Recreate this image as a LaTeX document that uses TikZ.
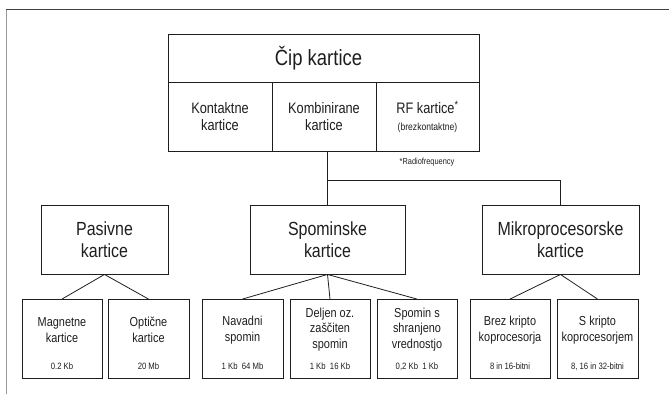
\documentclass[tikz,border=0pt]{standalone}
\usepackage{fontspec}
\setmainfont{Liberation Sans}[FakeStretch=0.84]
\definecolor{ink}{HTML}{1E1E1E}
\definecolor{framegray}{HTML}{9A9A9A}
\newcommand\fTitle{\fontsize{22}{24}\selectfont}
\newcommand\fMid{\fontsize{19}{22}\selectfont}
\newcommand\fSub{\fontsize{15.2}{16.6}\selectfont}
\newcommand\fSmall{\fontsize{10.2}{12}\selectfont}
\newcommand\fBot{\fontsize{13}{15.5}\selectfont}
\newcommand\fVal{\fontsize{9.2}{11}\selectfont}
\begin{document}
\begin{tikzpicture}[x=1pt,y=-1pt,
  box/.style={draw=ink, line width=0.9pt, inner sep=0pt, align=center, text=ink},
  midbox/.style={box, minimum height=69pt, font=\fMid},
  subbox/.style={box, minimum height=69pt, font=\fSub},
  botbox/.style={draw=ink, line width=0.9pt, inner sep=0pt, minimum height=79pt},
  bottext/.style={align=center, text=ink, inner sep=0pt, font=\fBot},
  valtext/.style={text=ink, inner sep=0pt, font=\fVal},
  conn/.style={draw=ink, line width=0.8pt}]
\useasboundingbox (0,0) rectangle (669,394);
% frame
\draw[framegray, line width=1.6pt] (6.5,394) -- (6.5,9.5);
\draw[ink!85, line width=1.3pt] (5.7,9.5) -- (669,9.5);
% top box
\node[box, minimum width=311pt, minimum height=48pt] (cip) at (323.5,58) {};
\node[text=ink, inner sep=0pt, font=\fTitle] (ciptext) at (318.5,58) {Čip kartice};
\node[subbox, minimum width=104pt] (kon) at (220,116.5) {Kontaktne\\kartice};
\node[subbox, minimum width=104pt] (kom) at (324,116.5) {Kombinirane\\kartice};
\node[subbox, minimum width=103pt] (rf) at (427.5,116.5) {RF kartice\textsuperscript{*}\\{\fSmall(brezkontaktne)}};
\node[valtext, font=\fontsize{8.8}{10}\selectfont] (rfnote) at (427,162.5) {*Radiofrequency};
% second row
\node[midbox, minimum width=127pt] (pas) at (104.5,239.5) {Pasivne\\kartice};
\node[midbox, minimum width=155pt] (spo) at (327.5,239.5) {Spominske\\kartice};
\node[midbox, minimum width=157pt] (mik) at (560.5,239.5) {Mikroprocesorske\\kartice};
% connectors top
\coordinate (jn) at (327.5,180);
\draw[conn] (spo.north |- kom.south) -- (spo.north);
\draw[conn] (jn) -| (mik.north);
% bottom boxes
\node[botbox, minimum width=80pt] (b1) at (62,339) {};
\node[botbox, minimum width=81pt] (b2) at (148.5,339) {};
\node[botbox, minimum width=81pt] (b3) at (242.5,339) {};
\node[botbox, minimum width=80pt] (b4) at (330,339) {};
\node[botbox, minimum width=80pt] (b5) at (417,339) {};
\node[botbox, minimum width=80pt] (b6) at (510,339) {};
\node[botbox, minimum width=81pt] (b7) at (597.5,339) {};
% bottom texts
\node[bottext] (t1) at (62,330) {Magnetne\\kartice};
\node[bottext] (t2) at (148.5,330) {Optične\\kartice};
\node[bottext] (t3) at (242.5,330) {Navadni\\spomin};
\node[bottext] (t4) at (330,329.5) {Deljen oz.\\zaščiten\\spomin};
\node[bottext] (t5) at (417,329.5) {Spomin s\\shranjeno\\vrednostjo};
\node[bottext] (t6) at (510,330) {Brez kripto\\koprocesorja};
\node[bottext] (t7) at (597.5,330) {S kripto\\koprocesorjem};
\node[valtext] (v1) at (62,366.5) {0.2 Kb};
\node[valtext] (v2) at (148.5,366.5) {20 Mb};
\node[valtext] (v3) at (242.5,366.5) {1 Kb\ \ 64 Mb};
\node[valtext] (v4) at (330,366.5) {1 Kb\ \ 16 Kb};
\node[valtext] (v5) at (417,366.5) {0,2 Kb\ \ 1 Kb};
\node[valtext] (v6) at (510,366.5) {8 in 16-bitni};
\node[valtext] (v7) at (597.5,366.5) {8, 16 in 32-bitni};
% lower connectors
\draw[conn] (pas.south) -- (b1.north);
\draw[conn] (pas.south) -- (b2.north);
\draw[conn] (spo.south) -- (b3.north);
\draw[conn] (spo.south) -- (b4.north);
\draw[conn] (spo.south) -- (b5.north);
\draw[conn] (mik.south) -- (b6.north);
\draw[conn] (mik.south) -- (b7.north);
\end{tikzpicture}
\end{document}
